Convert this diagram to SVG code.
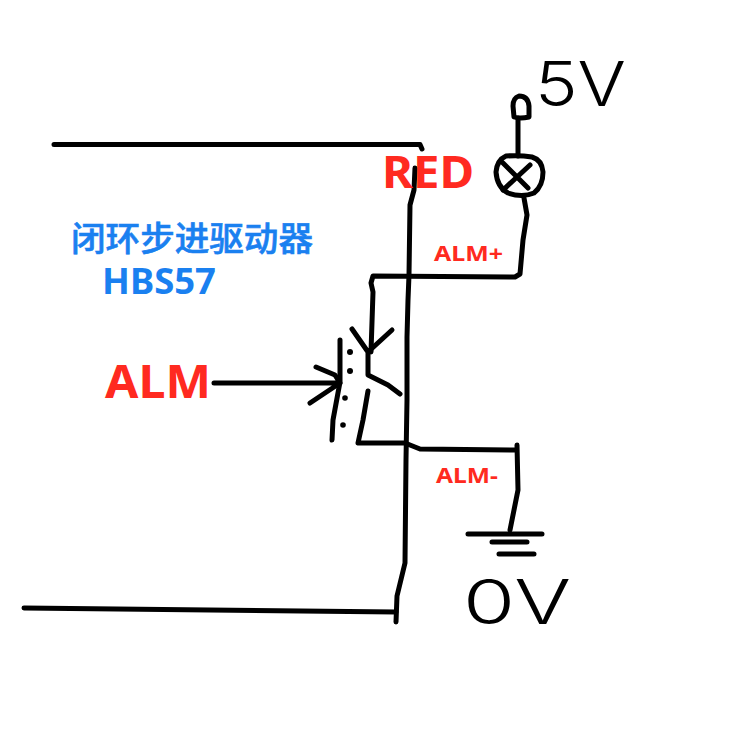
<svg xmlns="http://www.w3.org/2000/svg" width="750" height="750" viewBox="0 0 750 750">
<style>
.w{fill:none;stroke:#000;stroke-width:5;stroke-linecap:round;stroke-linejoin:round}
.r{fill:#ff2a20;font-family:"Noto Sans","Liberation Sans",sans-serif;font-weight:700}
.b{fill:#1a80f0;font-family:"Noto Sans","Noto Sans CJK SC",sans-serif;font-weight:700}
.k{fill:#000;font-family:Inter,"Liberation Sans",sans-serif;font-weight:300}
</style>
<rect width="750" height="750" fill="#fff"/>
<g id="connectors">
<path class="w" d="M54 144.500H420L422 149"/>
<path class="w" d="M415 168L414 190L410 205L409 275L408 300L407 337L407 400L406 460L405 563L397 596L396 622"/>
<path class="w" d="M24 608L396 612"/>
<path class="w" d="M518 118V156"/>
<path class="w" d="M524 198L527 215L523 240L520 274L515 277L373 276L371 283L373 292L371 352"/>
<path class="w" d="M368 391L363 420L358 443H405L420 449L516 450M517 445L518 490L510 530"/>
<path class="w" d="M214 383H338M316 367L335 375L340 383L310 403"/>
</g>
<g id="transistor">
<path class="w" d="M352 329L368 352L392 330M368 352V375L388 385L400 394"/>
<path class="w" d="M340 340V382L333 420L332 440"/>
<g fill="#000"><circle cx="350" cy="352" r="3"/><circle cx="350" cy="371" r="3"/><circle cx="345" cy="398" r="2.800"/><circle cx="343" cy="425" r="2.800"/></g>
</g>
<g id="lamp">
<path class="w" d="M506 156Q520 155 532 157Q542 160 543 172Q543 186 534 193Q522 198 508 193Q497 187 496 172Q497 160 506 156Z"/>
<path class="w" d="M503 163L528 188M503 190L530 165"/>
</g>
<g id="terminal-5v">
<path class="w" d="M519 96Q528 96 529 106L529 117Q520 119 514 117L513 106Q513 98 519 96Z"/>
<text class="k" x="535" y="106" font-size="62" textLength="91" lengthAdjust="spacingAndGlyphs">5V</text>
</g>
<g id="ground">
<path class="w" d="M468 534H542M492 542H527M499 554H534"/>
<text class="k" x="463" y="624" font-size="62" textLength="108" lengthAdjust="spacingAndGlyphs">0V</text>
</g>
<g id="labels">
<text class="r" x="382" y="188" font-size="45" textLength="92" lengthAdjust="spacingAndGlyphs">RED</text>
<text class="r" x="105" y="398" font-size="46" textLength="106" lengthAdjust="spacingAndGlyphs">ALM</text>
<text class="r" x="434" y="261" font-size="21" textLength="69" lengthAdjust="spacingAndGlyphs">ALM+</text>
<text class="r" x="436" y="483" font-size="21" textLength="62" lengthAdjust="spacingAndGlyphs">ALM-</text>
<text class="b" x="71" y="251" font-size="34" textLength="242" lengthAdjust="spacingAndGlyphs" stroke="#1a80f0" stroke-width="0.6" style="font-family:'Noto Sans CJK SC',sans-serif;font-weight:500">闭环步进驱动器</text>
<text class="b" x="102" y="294" font-size="35" textLength="114" lengthAdjust="spacingAndGlyphs">HBS57</text>
</g>
</svg>
